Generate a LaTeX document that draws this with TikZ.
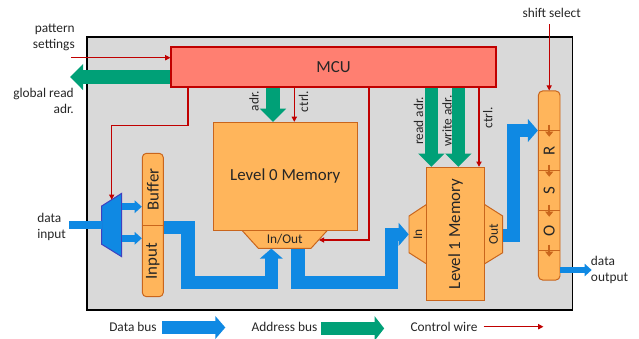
\documentclass[tikz,border=0pt]{standalone}
\usepackage{fontspec}
\setmainfont{Carlito}
\usepackage{xcolor}
\usepackage{tikz}
\usetikzlibrary{positioning,arrows.meta,calc}
\definecolor{bggray}{HTML}{D9D9D9}
\definecolor{mcured}{HTML}{FF7F71}
\definecolor{wirered}{HTML}{C00000}
\definecolor{memorange}{HTML}{FFB55B}
\definecolor{memedge}{HTML}{C9651C}
\definecolor{busblue}{HTML}{0F89E3}
\definecolor{adrgreen}{HTML}{00A077}
\definecolor{muxedge}{HTML}{3F3FBF}
\definecolor{txt}{HTML}{262626}
\newcommand{\lblsize}{\fontsize{9.5pt}{11.4pt}\selectfont}
\newcommand{\memsize}{\fontsize{12pt}{14pt}\selectfont}

\begin{document}
\begin{tikzpicture}[
  x=0.025cm, y=-0.025cm,
  text=txt,
  lbl/.style={font=\lblsize, inner sep=0pt},
  rot/.style={font=\lblsize, inner sep=0pt, rotate=90},
  mem/.style={draw=memedge, fill=memorange, line width=0.7pt, inner sep=0pt, font=\memsize},
  mcubox/.style={draw=wirered, fill=mcured, line width=0.8pt, inner sep=0pt, font=\memsize},
  hexside/.style={draw=memedge, fill=memorange, line width=0.7pt},
  dbus/.style={draw=busblue, line width=9.25pt, -{Triangle[width=0.56cm,length=0.25cm]}},
  sbus/.style={draw=busblue, line width=4.6pt, -{Triangle[width=0.31cm,length=0.18cm]}},
  abus/.style={draw=adrgreen, line width=9.6pt, -{Triangle[width=0.64cm,length=0.33cm]}},
  wire/.style={draw=wirered, line width=0.8pt, -{Triangle[width=1.3mm,length=1.3mm]}},
  shiftarr/.style={draw=memedge, line width=1.8pt, -{Triangle[width=2mm,length=1.3mm]}},
]
\useasboundingbox (0,0) rectangle (639,338);
\node[draw=black, fill=bggray, line width=0.8pt, inner sep=0pt,
      minimum width=12.125cm, minimum height=6.825cm] (board) at (329.5,173.5) {};

\node[mcubox, minimum width=8.125cm, minimum height=1cm] (mcu) at (333.5,67) {MCU};

% level 0 memory with its In/Out port
\path[hexside] (241.7,230) -- (327.7,230) -- (311,248.3) -- (258.3,248.3) -- cycle;
\node[mem, minimum width=3.6cm, minimum height=2.69cm] (l0) at (285.3,176.2) {Level 0 Memory};
\node[lbl, minimum height=0.4575cm] (io) at (284.7,239.15) {In/Out};

% level 1 memory with its In and Out ports
\path[hexside] (426.7,204.3) -- (409,216) -- (409,252.7) -- (426.7,264) -- cycle;
\path[hexside] (484.3,204.3) -- (502.7,216) -- (502.7,252.7) -- (484.3,264) -- cycle;
\node[mem, minimum width=1.44cm, minimum height=3.335cm] (l1) at (455.5,234) {\rotatebox{90}{Level 1 Memory}};
\node[lbl, minimum width=0.4425cm, minimum height=1.2cm] (l1in) at (417.85,234.35) {\rotatebox{90}{In}};
\node[lbl, minimum width=0.46cm, minimum height=1.2cm] (l1out) at (493.5,234.35) {\rotatebox{90}{Out}};

% buffer / input column
\node[mem, rounded corners=3pt, minimum width=0.525cm, minimum height=3.585cm] (col) at (152.8,225) {};
\draw[memedge, line width=0.7pt] (col.west) -- (col.east);
\node[rot, font=\memsize] (buf) at (152.8,189.3) {Buffer};
\node[rot, font=\memsize] (inp) at (152.8,261) {Input};

% output shift register
\node[mem, rounded corners=3pt, minimum width=0.54cm, minimum height=4.725cm] (osr) at (549.2,185.5) {};
\foreach \yy in {130.7,170.7,210.7,250.7} {
  \draw[memedge, line width=0.7pt] (osr.west |- 0,\yy) -- (osr.east |- 0,\yy);
  \draw[shiftarr] (549.2,\yy-6) -- (549.2,\yy+6);
}
\foreach \ltr/\yy in {R/150.7,S/190.7,O/230.7}
  \node[rot, font=\memsize] (osr\ltr) at (549.2,\yy) {\ltr};

% input mux
\coordinate (mux) at (111.7,225);
\coordinate (muxtop) at (111.7,199.7);
\filldraw[fill=busblue, draw=muxedge, line width=0.7pt]
  (101.7,206) -- (121.7,193.3) -- (121.7,256.7) -- (101.7,244.3) -- cycle;

% free ends
\coordinate (din) at (69,225);
\coordinate (dout) at (591.7,270);
\coordinate (gra) at (70,77);
\coordinate (pst) at (71,57.7);
\coordinate (ssel) at (549.2,24);
\coordinate (iorim) at (319,240);

% outside labels
\node[lbl, align=right, anchor=east] (psetl) at (75,37) {pattern\\settings};
\node[lbl, align=right, anchor=east] (gral) at (74,101) {global read\\adr.};
\node[lbl, align=left, anchor=west] (dinl) at (37,227) {data\\input};
\node[lbl, align=left, anchor=west] (doutl) at (590.7,269.7) {data\\output};
\node[lbl] (ssell) at (551.7,13) {shift select};

% bus labels
\node[rot] (adrl) at (254,101) {adr.};
\node[rot] (ctl0) at (303.5,101.5) {ctrl.};
\node[rot] (radl) at (418.5,121) {read adr.};
\node[rot] (wadl) at (447,121) {write adr.};
\node[rot] (ctl1) at (487.7,118) {ctrl.};

% data buses
\draw[busblue, line width=5.2pt] (din) -- (din -| 101.7,0);
\foreach \yy in {206.7,238.3} \draw[sbus] (121.7,\yy) -- (col.west |- 0,\yy);
\draw[dbus] ($(col.east)+(0,2)$) -| (188,282.7) -| ($(io.south)+(-13.4,0)$);
\draw[dbus] ($(io.south)+(13.3,0)$) |- (391.3,282.7) |- (l1in.west);
\draw[dbus] ($(l1out.east)+(0,1)$) -| (513,130.5) -- (osr.west |- 0,130.5);
\draw[sbus] (osr.east |- dout) -- (dout);

% address buses
\draw[abus] ($(mcu.west)+(0,10)$) -- (gra);
\draw[abus] (mcu.south -| 273,0) -- (l0.north -| 273,0);
\foreach \xx in {431.3,458.3} \draw[abus] (mcu.south -| \xx,0) -- (l1.north -| \xx,0);

% control wires
\draw[wire] (pst) -- (mcu.west |- pst);
\draw[wire] (mcu.south -| 188,0) |- (111.7,125.7) -- (muxtop);
\draw[wire] (mcu.south -| 294.3,0) -- (l0.north -| 294.3,0);
\draw[wire] (mcu.south -| 369,0) |- (iorim);
\draw[wire] (mcu.south -| 479,0) -- (l1.north -| 479,0);
\draw[wire] (ssel) -- (osr.north);

% legend
\node[lbl] (lgd) at (133,326.7) {Data bus};
\node[lbl] (lga) at (284.5,326.7) {Address bus};
\node[lbl] (lgc) at (444,326.7) {Control wire};
\draw[dbus] ($(lgd.east)+(5,0.8)$) -- ++(63.3,0);
\draw[abus, -{Triangle[width=0.6cm,length=0.24cm]}] ($(lga.east)+(3.3,1.7)$) -- ++(63.3,0);
\draw[wire] ($(lgc.east)+(6,0)$) -- ++(59.7,0);
\end{tikzpicture}
\end{document}
